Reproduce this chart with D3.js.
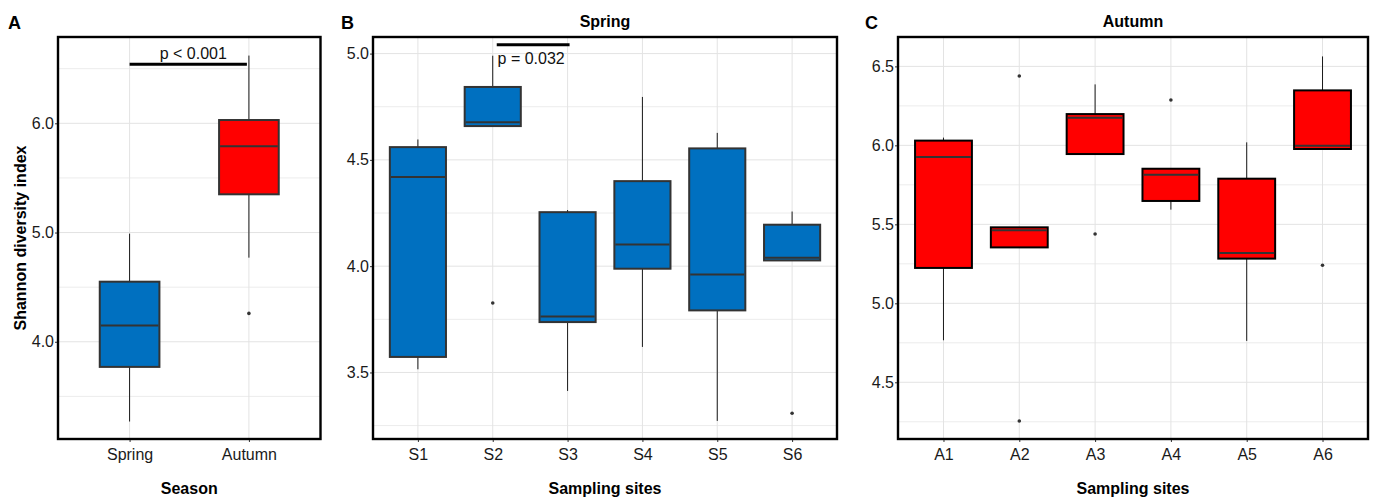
<!DOCTYPE html>
<html lang="en">
<head>
  <meta charset="UTF-8" />
  <title>Shannon diversity boxplots</title>
  <script src="https://d3js.org/d3.v7.min.js"></script>
  <style>
    body { margin: 0; background: #fff; }
    svg text { font-family: "Liberation Sans", Arial, sans-serif; }
  </style>
</head>
<body>
  <svg id="chart" width="1373" height="498"></svg>

  <script>
    // ---- data ----
    // stats per group: [lower whisker, q1, median, q3, upper whisker]
    const seasonCats = ["Spring", "Autumn"];
    const seasonStats = [
      [3.27, 3.77, 4.15, 4.55, 4.99],
      [4.77, 5.35, 5.79, 6.03, 6.62]
    ];
    const seasonOutliers = [[], [4.26]];

    const springSites = ["S1", "S2", "S3", "S4", "S5", "S6"];
    const springStats = [
      [3.515, 3.573, 4.419, 4.560, 4.596],
      [4.659, 4.659, 4.677, 4.843, 4.99],
      [3.413, 3.737, 3.763, 4.254, 4.264],
      [3.62, 3.988, 4.102, 4.40, 4.796],
      [3.272, 3.792, 3.961, 4.554, 4.627],
      [4.027, 4.027, 4.040, 4.195, 4.257]
    ];
    const springOutliers = [[], [3.827], [], [], [], [3.308]];

    const autumnSites = ["A1", "A2", "A3", "A4", "A5", "A6"];
    const autumnStats = [
      [4.766, 5.224, 5.926, 6.030, 6.049],
      [5.354, 5.354, 5.462, 5.481, 5.481],
      [5.945, 5.945, 6.175, 6.198, 6.386],
      [5.593, 5.648, 5.814, 5.852, 5.852],
      [4.762, 5.283, 5.319, 5.789, 6.019],
      [5.977, 5.977, 5.998, 6.348, 6.563]
    ];
    const autumnOutliers = [[], [6.439, 4.255], [5.439], [6.287], [], [5.241]];

    // tick values
    const seasonTicks = [4.0, 5.0, 6.0];
    const seasonMinor = [3.5, 4.5, 5.5, 6.5];
    const springTicks = [3.5, 4.0, 4.5, 5.0];
    const springMinor = [3.25, 3.75, 4.25, 4.75];
    const autumnTicks = [4.5, 5.0, 5.5, 6.0, 6.5];
    const autumnMinor = [4.25, 4.75, 5.25, 5.75, 6.25];

    // significance annotations
    const seasonSig = { from: "Spring", to: "Autumn", y: 6.54, label: "p < 0.001" };
    const springSig = { from: "S2", to: "S3", y: 5.042, label: "p = 0.032" };

    const BLUE = "#0070C0", RED = "#FF0000";

    const svg = d3.select("#chart");
    const plotTop = 37, plotBottom = 439;

    function drawPanel(p) {
      const g = svg.append("g");

      const x = d3.scalePoint()
        .domain(p.cats)
        .range([p.left, p.right])
        .padding(0.6);
      const step = x.step();

      const y = d3.scaleLinear()
        .domain(p.domain)
        .range([plotBottom, plotTop]);

      // grid
      g.append("g").selectAll("line")
        .data(p.minor)
        .join("line")
        .attr("x1", p.left).attr("x2", p.right)
        .attr("y1", d => y(d)).attr("y2", d => y(d))
        .attr("stroke", "#ececec").attr("stroke-width", 1);
      g.append("g").selectAll("line")
        .data(p.ticks)
        .join("line")
        .attr("x1", p.left).attr("x2", p.right)
        .attr("y1", d => y(d)).attr("y2", d => y(d))
        .attr("stroke", "#e3e3e3").attr("stroke-width", 1);
      g.append("g").selectAll("line")
        .data(p.cats)
        .join("line")
        .attr("x1", d => x(d)).attr("x2", d => x(d))
        .attr("y1", plotTop).attr("y2", plotBottom)
        .attr("stroke", "#e3e3e3").attr("stroke-width", 1);

      const rows = p.cats.map((c, i) => ({ cat: c, s: p.stats[i], out: p.outliers[i] }));
      const bw = step * p.boxWidth;

      // whiskers
      const wg = g.append("g").attr("stroke", "#1a1a1a").attr("stroke-width", 1);
      wg.append("g").selectAll("line")
        .data(rows.filter(d => d.s[4] > d.s[3]))
        .join("line")
        .attr("x1", d => x(d.cat)).attr("x2", d => x(d.cat))
        .attr("y1", d => y(d.s[4])).attr("y2", d => y(d.s[3]));
      wg.append("g").selectAll("line")
        .data(rows.filter(d => d.s[0] < d.s[1]))
        .join("line")
        .attr("x1", d => x(d.cat)).attr("x2", d => x(d.cat))
        .attr("y1", d => y(d.s[1])).attr("y2", d => y(d.s[0]));

      // boxes
      g.append("g").selectAll("rect")
        .data(rows)
        .join("rect")
        .attr("x", d => x(d.cat) - bw / 2)
        .attr("width", bw)
        .attr("y", d => y(d.s[3]))
        .attr("height", d => y(d.s[1]) - y(d.s[3]))
        .attr("fill", p.fill)
        .attr("stroke", p.boxStroke)
        .attr("stroke-width", 2);

      // medians
      g.append("g").selectAll("line")
        .data(rows)
        .join("line")
        .attr("x1", d => x(d.cat) - bw / 2 + 1).attr("x2", d => x(d.cat) + bw / 2 - 1)
        .attr("y1", d => y(d.s[2])).attr("y2", d => y(d.s[2]))
        .attr("stroke", "#333").attr("stroke-width", 2);

      // outliers
      g.append("g").selectAll("circle")
        .data(rows.flatMap(d => d.out.map(v => ({ cat: d.cat, v }))))
        .join("circle")
        .attr("cx", d => x(d.cat))
        .attr("cy", d => y(d.v))
        .attr("r", 1.8)
        .attr("fill", "#333");

      // significance bar
      if (p.sig) {
        g.append("line")
          .attr("x1", x(p.sig.from) + p.sigOffset[0]).attr("x2", x(p.sig.to) + p.sigOffset[1])
          .attr("y1", y(p.sig.y)).attr("y2", y(p.sig.y))
          .attr("stroke", "#000").attr("stroke-width", 3);
        g.append("text")
          .attr("x", (x(p.sig.from) + x(p.sig.to)) / 2 + p.sigTextDx)
          .attr("y", y(p.sig.y) + p.sigTextDy)
          .attr("text-anchor", "middle")
          .attr("font-size", "16px")
          .attr("fill", "#111")
          .text(p.sig.label);
      }

      // axes
      const ya = g.append("g")
        .attr("transform", `translate(${p.left},0)`)
        .call(d3.axisLeft(y).tickValues(p.ticks).tickFormat(d3.format(".1f")).tickSize(3).tickPadding(1));
      const xa = g.append("g")
        .attr("transform", `translate(0,${plotBottom})`)
        .call(d3.axisBottom(x).tickSize(3).tickPadding(6.5));
      [ya, xa].forEach(a => {
        a.select(".domain").remove();
        a.selectAll(".tick line").attr("stroke", "#333");
        a.selectAll("text")
          .attr("font-size", "16px")
          .attr("font-family", "Liberation Sans, Arial, sans-serif")
          .attr("fill", "#1a1a1a");
      });

      // frame
      g.append("rect")
        .attr("x", p.left).attr("y", plotTop)
        .attr("width", p.right - p.left).attr("height", plotBottom - plotTop)
        .attr("fill", "none").attr("stroke", "#000").attr("stroke-width", 2.4);

      // titles
      g.append("text")
        .attr("x", (p.left + p.right) / 2).attr("y", 494)
        .attr("text-anchor", "middle")
        .attr("font-size", "16px").attr("font-weight", "bold")
        .text(p.xTitle);
      if (p.title) {
        g.append("text")
          .attr("x", (p.left + p.right) / 2).attr("y", 26.5)
          .attr("text-anchor", "middle")
          .attr("font-size", "16px").attr("font-weight", "bold")
          .text(p.title);
      }
      if (p.yTitle) {
        g.append("text")
          .attr("transform", `translate(25.5,${(plotTop + plotBottom) / 2}) rotate(-90)`)
          .attr("text-anchor", "middle")
          .attr("font-size", "16px").attr("font-weight", "bold")
          .text(p.yTitle);
      }
      g.append("text")
        .attr("x", p.letterX).attr("y", 29)
        .attr("font-size", "18px").attr("font-weight", "bold")
        .text(p.letter);
    }

    drawPanel({
      left: 58, right: 320.5,
      cats: seasonCats, stats: seasonStats, outliers: seasonOutliers,
      domain: [3.11, 6.79], ticks: seasonTicks, minor: seasonMinor,
      fill: d => d.cat === "Autumn" ? RED : BLUE, boxStroke: "#333", boxWidth: 0.5,
      xTitle: "Season", yTitle: "Shannon diversity index", letter: "A", letterX: 8,
      sig: seasonSig, sigOffset: [0, -2], sigTextDx: 4, sigTextDy: -5.5
    });

    drawPanel({
      left: 373, right: 837,
      cats: springSites, stats: springStats, outliers: springOutliers,
      domain: [3.187, 5.078], ticks: springTicks, minor: springMinor,
      fill: BLUE, boxStroke: "#333", boxWidth: 0.75,
      xTitle: "Sampling sites", title: "Spring", letter: "B", letterX: 341,
      sig: springSig, sigOffset: [4, 2], sigTextDx: 1, sigTextDy: 19.5
    });

    drawPanel({
      left: 898, right: 1368,
      cats: autumnSites, stats: autumnStats, outliers: autumnOutliers,
      domain: [4.141, 6.686], ticks: autumnTicks, minor: autumnMinor,
      fill: RED, boxStroke: "#000", boxWidth: 0.75,
      xTitle: "Sampling sites", title: "Autumn", letter: "C", letterX: 865
    });
  </script>
</body>
</html>
